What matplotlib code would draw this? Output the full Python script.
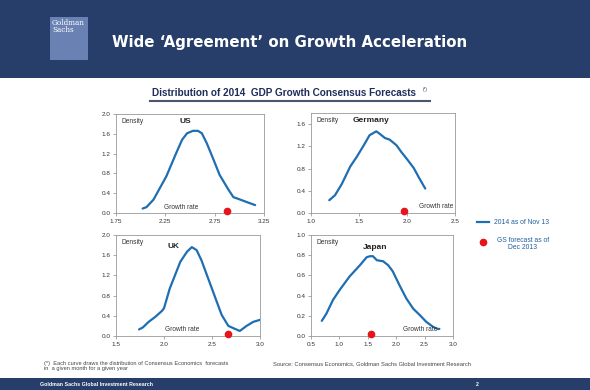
import matplotlib
matplotlib.use("Agg")
import matplotlib.pyplot as plt
from matplotlib.patches import Rectangle
from matplotlib.lines import Line2D

plt.rcParams['font.family'] = ['Liberation Sans', 'DejaVu Sans']

W, H = 590, 390
NAVY = "#263e69"
BLUE = "#1f6eb2"
RED = "#e8141c"

# ---- data ----
us_x = [2.02, 2.06, 2.13, 2.26, 2.36, 2.42, 2.47, 2.53, 2.58, 2.62, 2.67, 2.74, 2.80, 2.89, 2.94, 3.01, 3.09, 3.16]
us_y = [0.09, 0.12, 0.27, 0.74, 1.21, 1.48, 1.61, 1.66, 1.66, 1.61, 1.41, 1.07, 0.77, 0.47, 0.32, 0.27, 0.21, 0.16]
us_gs = 2.88

de_x = [1.19, 1.25, 1.32, 1.41, 1.48, 1.55, 1.61, 1.68, 1.72, 1.77, 1.82, 1.89, 1.94, 2.00, 2.07, 2.13, 2.19]
de_y = [0.23, 0.32, 0.52, 0.84, 1.02, 1.22, 1.40, 1.47, 1.42, 1.35, 1.32, 1.22, 1.10, 0.97, 0.81, 0.62, 0.44]
de_gs = 1.97

uk_x = [1.74, 1.78, 1.84, 1.91, 1.98, 2.00, 2.06, 2.17, 2.24, 2.29, 2.34, 2.39, 2.46, 2.53, 2.60, 2.67, 2.74, 2.79, 2.86, 2.93, 3.00]
uk_y = [0.13, 0.17, 0.28, 0.38, 0.50, 0.55, 0.94, 1.47, 1.67, 1.76, 1.70, 1.50, 1.14, 0.78, 0.42, 0.20, 0.14, 0.10, 0.20, 0.28, 0.32]
uk_gs = 2.67

jp_x = [0.69, 0.77, 0.89, 1.01, 1.18, 1.36, 1.48, 1.54, 1.59, 1.66, 1.77, 1.86, 1.94, 2.06, 2.18, 2.30, 2.41, 2.53, 2.65, 2.73, 2.76]
jp_y = [0.15, 0.22, 0.36, 0.46, 0.59, 0.70, 0.78, 0.79, 0.79, 0.75, 0.74, 0.70, 0.64, 0.50, 0.37, 0.27, 0.21, 0.14, 0.09, 0.07, 0.07]
jp_gs = 1.55

fig = plt.figure(figsize=(W / 100, H / 100), dpi=100)
fig.patch.set_facecolor("white")

def px_rect(x0, y0, x1, y1, **kw):
    fig.patches.append(Rectangle((x0 / W, 1 - y1 / H), (x1 - x0) / W, (y1 - y0) / H,
                                 transform=fig.transFigure, figure=fig, **kw))

def ftext(x, y, s, **kw):
    return fig.text(x / W, 1 - y / H, s, **kw)

# header
px_rect(0, 0, W, 78, facecolor=NAVY, edgecolor="none")
px_rect(50, 17, 88, 60, facecolor="#6a82b3", edgecolor="none")
ftext(52, 19, "Goldman\nSachs", color="white", fontsize=5.2, family="DejaVu Serif",
      va="top", ha="left", linespacing=0.85)
ftext(290, 43, "Wide \u2018Agreement\u2019 on Growth Acceleration", color="white",
      fontsize=10.8, fontweight="bold", family="DejaVu Sans", ha="center", va="center")

# subtitle
ftext(152, 93, "Distribution of 2014  GDP Growth Consensus Forecasts", color="#1f2d5a",
      fontsize=7.2, fontweight="bold", ha="left", va="center")
ftext(423, 89, "(*)", color="#1f2d5a", fontsize=3.3, ha="left", va="center")
fig.lines.append(Line2D([150 / W, 430 / W], [1 - 101 / H, 1 - 101 / H], transform=fig.transFigure,
                        color="#4a5570", lw=1.5))

# footer band
px_rect(0, 378, W, H, facecolor=NAVY, edgecolor="none")
ftext(40, 384, "Goldman Sachs Global Investment Research", color="white", fontsize=3.8,
      fontweight="bold", ha="left", va="center")
ftext(476, 384, "2", color="white", fontsize=3.8, fontweight="bold", ha="left", va="center")

ftext(44, 366, "(*)  Each curve draws the distribution of Consensus Economics  forecasts\nin  a given month for a given year",
      color="#444444", fontsize=4.1, ha="left", va="center", linespacing=1.2)
ftext(273, 364, "Source: Consensus Economics, Goldman Sachs Global Investment Research",
      color="#444444", fontsize=4.15, ha="left", va="center")

def panel(box, xs, ys, gs, xlim, xticks, xfmt, ylim, yticks, name, name_xy, gr_xy, gr_ha="center"):
    x0, y0, x1, y1 = box
    ax = fig.add_axes([x0 / W, 1 - y1 / H, (x1 - x0) / W, (y1 - y0) / H])
    ax.plot(xs, ys, color=BLUE, lw=1.6, solid_capstyle="round", zorder=3)
    ax.plot([gs], [0.02 * ylim[1]], "o", color=RED, ms=4.5, zorder=4, clip_on=False)
    ax.set_xlim(*xlim)
    ax.set_ylim(*ylim)
    ax.set_xticks(xticks)
    ax.set_xticklabels([xfmt.format(t) for t in xticks])
    ax.set_yticks(yticks)
    ax.set_yticklabels(["{:.1f}".format(t) for t in yticks])
    ax.tick_params(labelsize=4.6, length=2, width=0.5, colors="#888888", labelcolor="#333333", pad=2)
    for s in ax.spines.values():
        s.set_color("#999999")
        s.set_linewidth(0.6)
    ax.text(0.04, 0.96, "Density", transform=ax.transAxes, fontsize=4.8, color="#333333",
            ha="left", va="top")
    ax.text(name_xy[0], name_xy[1], name, transform=ax.transAxes, fontsize=6, fontweight="bold",
            color="#222222", ha="center", va="center")
    ax.text(gr_xy[0], gr_xy[1], "Growth rate", transform=ax.transAxes, fontsize=4.7, color="#333333",
            ha=gr_ha, va="center")
    return ax

panel((116, 114, 264, 213), us_x, us_y, us_gs, (1.75, 3.25), [1.75, 2.25, 2.75, 3.25], "{:.2f}",
      (0, 2.0), [0.0, 0.4, 0.8, 1.2, 1.6, 2.0], "US", (0.47, 0.92), (0.44, 0.06))
panel((311, 113, 455, 213), de_x, de_y, de_gs, (1.0, 2.5), [1.0, 1.5, 2.0, 2.5], "{:.1f}",
      (0, 1.8), [0.0, 0.4, 0.8, 1.2, 1.6], "Germany", (0.42, 0.92), (0.99, 0.06), "right")
panel((116, 235, 260, 336), uk_x, uk_y, uk_gs, (1.5, 3.0), [1.5, 2.0, 2.5, 3.0], "{:.1f}",
      (0, 2.0), [0.0, 0.4, 0.8, 1.2, 1.6, 2.0], "UK", (0.4, 0.89), (0.46, 0.06))
panel((311, 235, 453, 336), jp_x, jp_y, jp_gs, (0.5, 3.0), [0.5, 1.0, 1.5, 2.0, 2.5, 3.0], "{:.1f}",
      (0, 1.0), [0.0, 0.2, 0.4, 0.6, 0.8, 1.0], "Japan", (0.45, 0.88), (0.77, 0.06))

# legend (manual, figure coords)
fig.lines.append(Line2D([477 / W, 489 / W], [1 - 222 / H, 1 - 222 / H], transform=fig.transFigure,
                        color=BLUE, lw=1.6))
ftext(494, 222, "2014 as of Nov 13", color="#1f5fa0", fontsize=4.9, ha="left", va="center")
fig.lines.append(Line2D([483 / W], [1 - 242 / H], transform=fig.transFigure, marker="o",
                        color=RED, ms=4.5, lw=0))
ftext(523, 244, "GS forecast as of\nDec 2013", color="#1f5fa0", fontsize=4.9, ha="center",
      va="center", linespacing=1.1)

fig.savefig("out.png", dpi=100, facecolor="white")
